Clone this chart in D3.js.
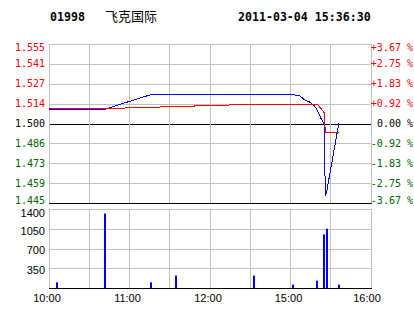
<!DOCTYPE html>
<html>
<head>
<meta charset="utf-8">
<script src="https://cdn.jsdelivr.net/npm/d3@7/dist/d3.min.js"></script>
<style>
    body {margin: 0; background: #fff;}
    svg text {font-family: "DejaVu Sans Mono", monospace; font-size: 10px;}
    .grid {stroke: #c0c0c0; stroke-width: 1; shape-rendering: crispEdges;}
    .base {stroke: #000; stroke-width: 1; shape-rendering: crispEdges;}
</style>
</head>
<body>
<svg id="chart"></svg>
<script>
// 标题
var stockCode = '01998', stockName = '飞克国际', quoteTime = '2011-03-04 15:36:30';
// 价格刻度
var preClose = 1.500, priceMin = 1.445, priceMax = 1.555;
var priceLabels = ['1.445', '1.459', '1.473', '1.486', '1.500', '1.514', '1.527', '1.541', '1.555'];
var percentLabels = ['-3.67 %', '-2.75 %', '-1.83 %', '-0.92 %', '0.00 %', '+0.92 %', '+1.83 %', '+2.75 %', '+3.67 %'];
// 成交量刻度
var volMax = 1400;
var volTicks = [350, 700, 1050, 1400];
// 时间刻度
var timeLabels = ['10:00', '11:00', '12:00', '15:00', '16:00'];
var gridStep = 30;
// 分时价格
var priceTimes = ['10:00', '10:42', '11:16', '15:02', '15:07', '15:11', '15:14', '15:18', '15:20', '15:23', '15:25', '15:26', '15:27', '15:36'];
var priceValues = [1.510, 1.510, 1.520, 1.520, 1.519, 1.516, 1.515, 1.512, 1.509, 1.503, 1.500, 1.450, 1.453, 1.500];
// 均价
var avgTimes = ['10:00', '10:45', '12:22', '15:20', '15:23', '15:25', '15:26', '15:36'];
var avgValues = [1.5104, 1.5104, 1.5130, 1.5133, 1.5100, 1.5077, 1.4937, 1.4937];
// 成交量
var volTimes = ['10:06', '10:42', '11:16', '11:35', '14:33', '15:02', '15:20', '15:25', '15:27', '15:36'];
var volValues = [100, 1320, 100, 220, 220, 60, 130, 950, 1050, 60];

// 时间转为交易分钟序号 (10:00-12:30, 14:30-16:00)
function toIndex(t) {
    var p = t.split(':');
    var m = (+p[0]) * 60 + (+p[1]);
    if (m >= 14 * 60 + 30) {
        return m - (14 * 60 + 30) + 150;
    }
    return m - 10 * 60;
}
function crisp(v) {
    return Math.round(v) + 0.5;
}

var svgWidth = 414, svgHeight = 314;
var left = 49, right = 371;
var priceTop = 44, priceBottom = 203;
var volTop = 209, volBottom = 288;

var svg = d3.select('#chart')
    .attr('width', svgWidth)
    .attr('height', svgHeight);

var x = d3.scaleLinear().domain([0, 240]).range([left, right]);
var y = d3.scaleLinear().domain([priceMin, priceMax]).range([priceBottom, priceTop]);
var yVol = d3.scaleLinear().domain([0, volMax]).range([volBottom, volTop]);

var gridX = d3.range(0, 241, gridStep);
var priceLevels = priceLabels.map(function(d, i) {
    return priceMin + i * (priceMax - priceMin) / (priceLabels.length - 1);
});

// 价格区网格
svg.append('g').selectAll('line')
    .data(priceLevels)
    .enter()
    .append('line')
    .attr('class', function(d, i) {
        return (i === 0 || i === 4) ? 'base' : 'grid';
    })
    .attr('x1', left).attr('x2', right + 1)
    .attr('y1', function(d) {return crisp(y(d));})
    .attr('y2', function(d) {return crisp(y(d));});
svg.append('g').selectAll('line')
    .data(gridX)
    .enter()
    .append('line')
    .attr('class', 'grid')
    .attr('x1', function(d) {return Math.floor(x(d)) + 0.5;})
    .attr('x2', function(d) {return Math.floor(x(d)) + 0.5;})
    .attr('y1', crisp(priceTop))
    .attr('y2', crisp(priceBottom) - 1);

// 成交量区网格
svg.append('g').selectAll('line')
    .data([0].concat(volTicks))
    .enter()
    .append('line')
    .attr('class', function(d) {return d === 0 ? 'base' : 'grid';})
    .attr('x1', left).attr('x2', right + 1)
    .attr('y1', function(d) {return crisp(yVol(d));})
    .attr('y2', function(d) {return crisp(yVol(d));});
svg.append('g').selectAll('line')
    .data(gridX)
    .enter()
    .append('line')
    .attr('class', 'grid')
    .attr('x1', function(d) {return Math.floor(x(d)) + 0.5;})
    .attr('x2', function(d) {return Math.floor(x(d)) + 0.5;})
    .attr('y1', crisp(volTop))
    .attr('y2', crisp(volBottom) - 1);

// 价格标签
function labelColor(i) {
    return i > 4 ? '#ff0000' : (i === 4 ? '#000000' : '#006600');
}
function labelY(d, i) {
    var v = y(d);
    if (i === 0) v -= 3;
    if (i === priceLevels.length - 1) v += 3;
    return v;
}
svg.append('g').selectAll('text')
    .data(priceLevels)
    .enter()
    .append('text')
    .attr('x', 45)
    .attr('y', labelY)
    .attr('dy', '0.36em')
    .attr('text-anchor', 'end')
    .attr('fill', function(d, i) {return labelColor(i);})
    .text(function(d, i) {return priceLabels[i];});
svg.append('g').selectAll('text')
    .data(priceLevels)
    .enter()
    .append('text')
    .attr('x', 413)
    .attr('y', labelY)
    .attr('dy', '0.36em')
    .attr('text-anchor', 'end')
    .attr('fill', function(d, i) {return labelColor(i);})
    .text(function(d, i) {return percentLabels[i];});

// 成交量标签
svg.append('g').selectAll('text')
    .data(volTicks)
    .enter()
    .append('text')
    .attr('x', 45)
    .attr('y', function(d) {return yVol(d) + (d === volMax ? 4 : 2);})
    .attr('dy', '0.36em')
    .attr('text-anchor', 'end')
    .style('font-family', '"Liberation Sans", Arial, sans-serif')
    .style('font-size', '11px')
    .text(function(d) {return d;});

// 时间标签
svg.append('g').selectAll('text')
    .data(timeLabels)
    .enter()
    .append('text')
    .attr('x', function(d, i) {
        var v = x(toIndex(d)) - 2;
        return i === timeLabels.length - 1 ? v - 2 : v;
    })
    .attr('y', 302)
    .attr('text-anchor', 'middle')
    .style('font-family', '"Liberation Sans", Arial, sans-serif')
    .style('font-size', '11px')
    .text(function(d) {return d;});

// 成交量柱
svg.append('g').selectAll('rect')
    .data(volTimes)
    .enter()
    .append('rect')
    .attr('x', function(d) {return Math.round(x(toIndex(d)) - 1);})
    .attr('y', function(d, i) {return yVol(volValues[i]);})
    .attr('width', 2)
    .attr('height', function(d, i) {return volBottom - yVol(volValues[i]);})
    .attr('fill', '#0000ff');

// 价格线与均价线
var line = d3.line()
    .x(function(d) {return x(toIndex(d[0]));})
    .y(function(d) {return y(d[1]);});
svg.append('path')
    .attr('d', line(d3.zip(priceTimes, priceValues)))
    .attr('fill', 'none')
    .attr('stroke', '#0000ff')
    .attr('stroke-width', 1)
    .attr('shape-rendering', 'crispEdges');
svg.append('path')
    .attr('d', line(d3.zip(avgTimes, avgValues)))
    .attr('fill', 'none')
    .attr('stroke', '#ff0000')
    .attr('stroke-width', 1)
    .attr('shape-rendering', 'crispEdges');

// 标题
svg.append('text')
    .attr('x', 50).attr('y', 21)
    .style('font-weight', 'bold').style('font-size', '11.6px')
    .text(stockCode);
svg.append('text')
    .attr('x', 105).attr('y', 21)
    .style('font-family', '"Noto Sans CJK SC", sans-serif').style('font-size', '13px')
    .text(stockName);
svg.append('text')
    .attr('x', 238).attr('y', 21)
    .style('font-weight', 'bold').style('font-size', '11.6px')
    .text(quoteTime);
</script>
</body>
</html>
